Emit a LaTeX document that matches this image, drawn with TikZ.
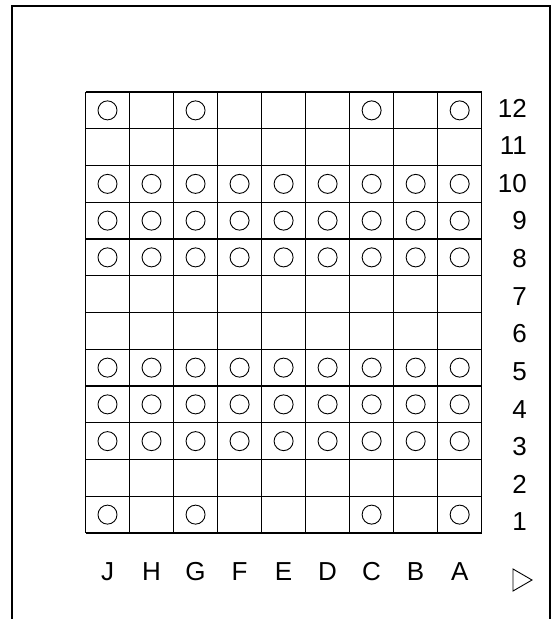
\documentclass[tikz,border=0pt]{standalone}
\usepackage{fontspec}
\setmainfont{Liberation Sans}
\begin{document}
\begin{tikzpicture}[x=1pt,y=-1pt,
    seat/.style={circle,draw,line width=0.9pt,minimum size=19pt,inner sep=0pt},
    rowlbl/.style={anchor=east,inner sep=0pt,font=\fontsize{26}{30}\selectfont},
    collbl/.style={inner sep=0pt,font=\fontsize{26}{30}\selectfont}
  ]
  \useasboundingbox (0,0) rectangle (555,619);
  \def\cw{44.02}
  \def\rh{36.75}
  % outer frame, open at the bottom
  \draw[line width=2pt] (12,619) -- (12,6) -- (550,6) -- (550,619);
  % grid
  \foreach \i in {0,...,9}
    \draw[line width=1.1pt] (85.5+\i*\cw,92) -- (85.5+\i*\cw,533);
  \foreach \j in {0,...,12}
    \draw[line width=1.1pt] (85.5,92+\j*\rh) -- (481.7,92+\j*\rh);
  % full rows
  \foreach \t in {2,3,4,7,8,9}
    \foreach \c in {1,...,9}
      \node[seat] (s-\c-\t) at (85.5+\c*\cw-0.5*\cw,92+\t*\rh+0.5*\rh) {};
  % top and bottom rows
  \foreach \t in {0,11}
    \foreach \c in {1,3,7,9}
      \node[seat] (s-\c-\t) at (85.5+\c*\cw-0.5*\cw,92+\t*\rh+0.5*\rh) {};
  % row numbers
  \foreach \n in {1,...,12}
    \node[rowlbl] (row\n) at (527,108+12*37.64-\n*37.64) {\n};
  % column letters
  \foreach \l [count=\c] in {J,H,G,F,E,D,C,B,A}
    \node[collbl] (col\l) at (85.5+\c*\cw-0.5*\cw,571.5) {\l};
  \draw[line width=0.9pt] (513,569) -- (532,580) -- (513,591) -- cycle;
\end{tikzpicture}
\end{document}
